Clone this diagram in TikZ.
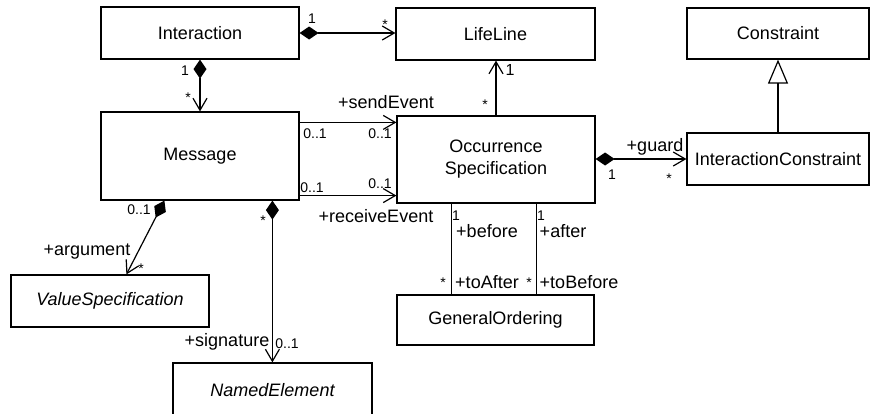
\documentclass[tikz,border=0pt]{standalone}
\usepackage{fontspec}
\setmainfont{Liberation Sans}
\usetikzlibrary{arrows.meta,calc}
\begin{document}
\begin{tikzpicture}[x=1pt,y=-1pt,
  cls/.style={draw, line width=1.2pt, rectangle, inner sep=0pt, minimum width=198pt, minimum height=52pt, font=\fontsize{18}{22}\selectfont, align=center},
  conn/.style={line width=1.2pt},
  lbl/.style={font=\fontsize{18}{20}\selectfont, inner sep=0pt, text height=13pt, text depth=0pt},
  mul/.style={font=\fontsize{14}{16}\selectfont, inner sep=0pt, text height=10pt, text depth=0pt},
  opentip/.style={-{Straight Barb[length=12pt,width=14pt]}},
  comp/.style={{Diamond[length=19pt,width=13pt]}-{Straight Barb[length=12pt,width=14pt]}},
  gen/.style={-{Triangle[open,length=24pt,width=20pt]}}
]
\useasboundingbox (0,0) rectangle (878,413);

% classes
\node[cls] (inter) at (200,33) {Interaction};
\node[cls, minimum width=199pt] (life) at (495.5,34) {LifeLine};
\node[cls, minimum width=182pt, minimum height=51pt] (con) at (778,33.5) {Constraint};
\node[cls, minimum height=88pt] (msg) at (200,156) {Message};
\node[cls, minimum height=87pt] (occ) at (496,159.5) {Occurrence\\Specification};
\node[cls, minimum width=182pt] (ic) at (778,159) {InteractionConstraint};
\node[cls, minimum width=197pt, minimum height=50pt] (go) at (495.5,320) {GeneralOrdering};
\node[cls] (vs) at (110,301) {\itshape ValueSpecification};
\node[cls, minimum width=199pt, minimum height=53pt, text depth=0pt] (ne) at (272.5,389.5) {\itshape NamedElement};

% connector end points
\coordinate (se) at ($(msg.north east)+(0,11)$);
\coordinate (re) at ($(msg.south east)+(0,-5)$);
\coordinate (bf) at ($(occ.south west)+(55,0)$);
\coordinate (af) at ($(occ.south west)+(140,0)$);
\coordinate (ar) at ($(msg.south west)+(64,0)$);
\coordinate (arv) at ($(vs.north west)+(116,0)$);
\coordinate (sg) at ($(msg.south west)+(172,0)$);

% connectors
\draw[conn, comp] (inter.east) -- (inter.east -| life.west);
\draw[conn, comp] (inter.south) -- (msg.north);
\draw[conn, opentip] (se) -- (se -| occ.west);
\draw[conn, opentip] (re) -- (re -| occ.west);
\draw[conn, opentip] (occ.north) -- (occ.north |- life.south);
\draw[conn, comp] (ic.west -| occ.east) -- (ic.west);
\draw[conn, gen] (ic.north) -- (con.south);
\draw[conn] (bf) -- (bf |- go.north);
\draw[conn] (af) -- (af |- go.north);
\draw[conn, comp] (ar) -- (arv);
\draw[conn, comp] (sg) -- (sg |- ne.north);

% labels
\node[mul] at (312,18) {1};
\node[mul] at (385,24) {*};
\node[mul] at (185,70) {1};
\node[mul] at (188,97) {*};
\node[lbl] at (386,102) {+sendEvent};
\node[mul] at (315,133) {0..1};
\node[mul] at (380,133) {0..1};
\node[mul] at (312,187) {0..1};
\node[mul] at (380,183) {0..1};
\node[lbl] at (376,216) {+receiveEvent};
\node[font=\fontsize{16}{18}\selectfont, inner sep=0pt] at (510,70) {1};
\node[mul] at (485,104) {*};
\node[lbl] at (655,145) {+guard};
\node[mul] at (612,174) {1};
\node[mul] at (669,178) {*};
\node[mul] at (456,215) {1};
\node[lbl] at (487,231) {+before};
\node[mul] at (443,282) {*};
\node[lbl] at (487,282) {+toAfter};
\node[mul] at (541,215) {1};
\node[lbl] at (563,231) {+after};
\node[mul] at (529,282) {*};
\node[lbl] at (579,282) {+toBefore};
\node[mul] at (139,209) {0..1};
\node[lbl] at (87,249) {+argument};
\node[mul] at (141,268) {*};
\node[mul] at (263,220) {*};
\node[lbl] at (227,340) {+signature};
\node[mul] at (287,343) {0..1};
\end{tikzpicture}
\end{document}
